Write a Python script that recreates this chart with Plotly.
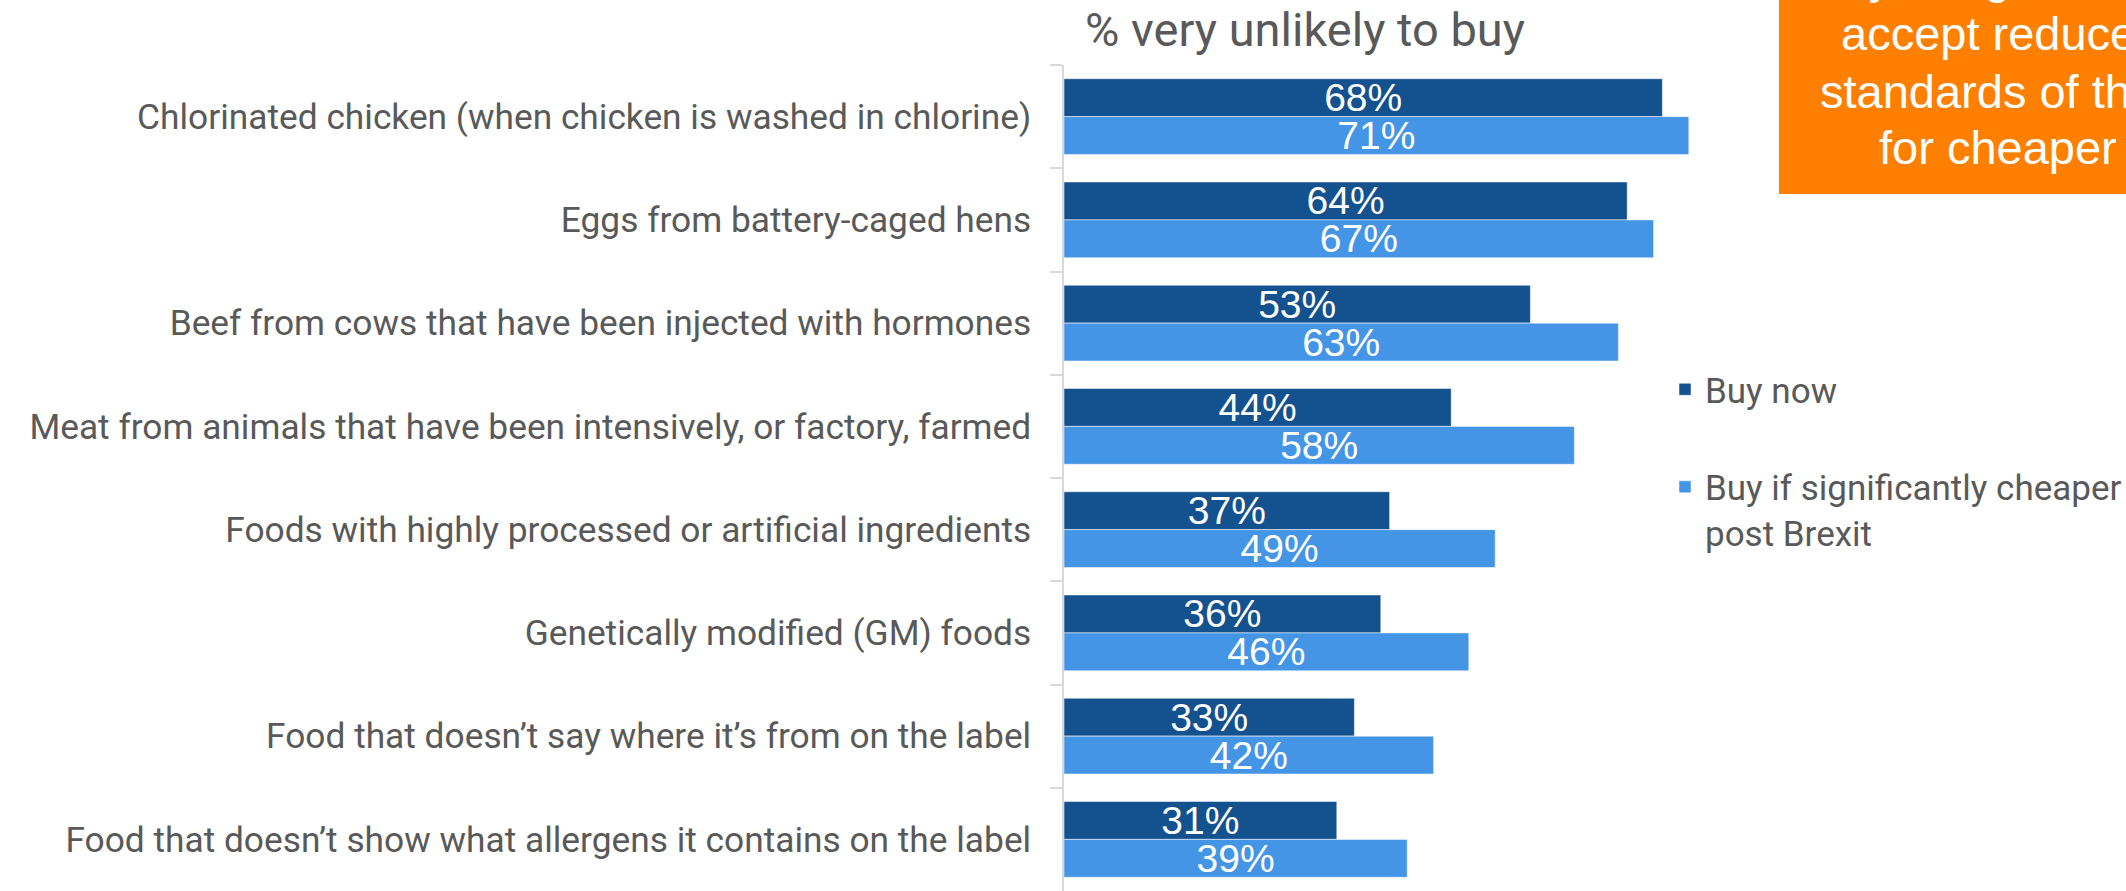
import plotly.graph_objects as go

categories = [
    "Chlorinated chicken (when chicken is washed in chlorine)",
    "Eggs from battery-caged hens",
    "Beef from cows that have been injected with hormones",
    "Meat from animals that have been intensively, or factory, farmed",
    "Foods with highly processed or artificial ingredients",
    "Genetically modified (GM) foods",
    "Food that doesn\u2019t say where it\u2019s from on the label",
    "Food that doesn\u2019t show what allergens it contains on the label",
]
buy_now = [68, 64, 53, 44, 37, 36, 33, 31]
buy_cheaper = [71, 67, 63, 58, 49, 46, 42, 39]
series_names = ["Buy now", "Buy if significantly cheaper<br>post Brexit"]
title_text = "% very unlikely to buy"
box_lines = ["you agree to", "accept reduced", "standards of the", "for cheaper"]

W, H = 2126, 891
L, R, T, B = 1064, 358, 65, 0
PW, PH = W - L - R, H - T - B

LAB = "Roboto, Liberation Sans, Arial, sans-serif"
REG = "Liberation Sans, Arial, sans-serif"
GREY = "#595959"
DARK = "#14518F"
LIGHT = "#4595E6"

def px_x(p):
    return (p - L) / PW

def px_y(p):
    return 1 - (p - T) / PH

fig = go.Figure()
for vals, name, col, grp in [(buy_now, series_names[0], DARK, "a"),
                             (buy_cheaper, series_names[1], LIGHT, "b")]:
    fig.add_trace(go.Bar(
        y=categories, x=vals, name=name, orientation="h",
        marker=dict(color=col, line=dict(color="rgba(255,255,255,0.5)", width=1)),
        texttemplate="%{x}%", textposition="inside", insidetextanchor="middle",
        constraintext="none",
        textfont=dict(family=REG, size=39, color="white"),
        legendgroup=grp,
    ))

fig.update_layout(
    width=W, height=H,
    margin=dict(l=L, r=R, t=T, b=B, pad=0, autoexpand=False),
    paper_bgcolor="white", plot_bgcolor="white",
    barmode="group", bargap=0.266, bargroupgap=0,
    title=dict(text=title_text, x=1085 / W, xanchor="left", xref="container",
               y=1 - 30 / H, yanchor="middle", yref="container",
               font=dict(family=LAB, size=47, color=GREY)),
    legend=dict(x=px_x(1665), xanchor="left", y=px_y(360), yanchor="top",
                font=dict(family=LAB, size=35, color=GREY),
                traceorder="grouped", tracegroupgap=49, valign="top",
                bgcolor="rgba(0,0,0,0)"),
    xaxis=dict(range=[0, 80], visible=False, fixedrange=True),
    yaxis=dict(autorange="reversed", showline=True, linecolor="#D9D9D9", linewidth=1.5,
               ticks="outside", ticklen=12, tickcolor="#D9D9D9", tickwidth=1.5,
               tickson="boundaries", showgrid=False, automargin=False,
               tickfont=dict(family=LAB, size=35.3, color=GREY),
               ticklabelstandoff=24),
)

fig.add_shape(type="rect", xref="paper", yref="paper",
              x0=px_x(1779), x1=px_x(2300), y0=px_y(194), y1=px_y(-100),
              fillcolor="#FF8000", line=dict(width=0), layer="above")

line_lefts = [1867, 1839, 1818, 1877]
line_centers = [-24, 33, 91, 147]
for txt, lx, cy in zip(box_lines, line_lefts, line_centers):
    fig.add_annotation(text=txt, xref="paper", yref="paper", x=px_x(lx), y=px_y(cy),
                       xanchor="left", yanchor="middle", showarrow=False,
                       font=dict(family=REG, size=47, color="white"))

fig.write_html("out.html", config={"displayModeBar": False},
               post_script="document.body.style.margin='0';")
